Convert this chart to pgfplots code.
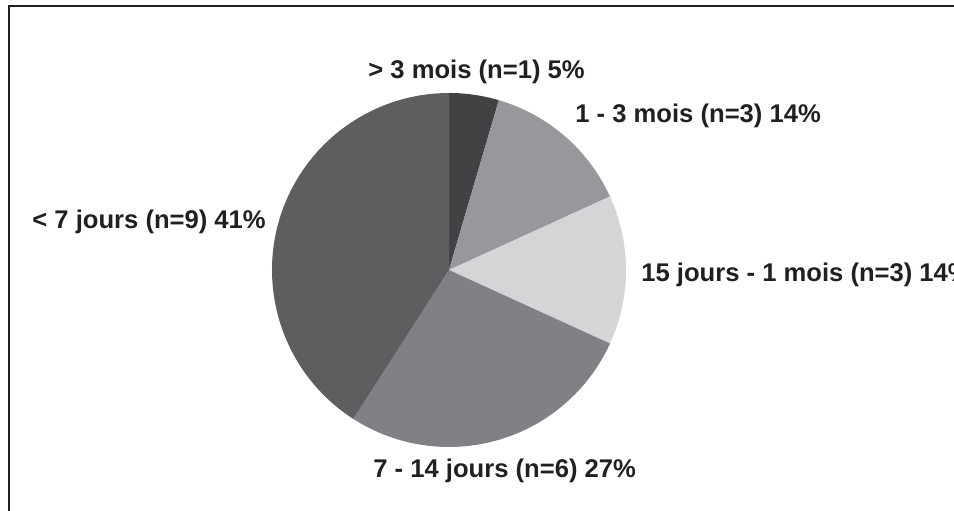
\documentclass[border=0pt]{standalone}
\usepackage{pgfplots}
\pgfplotsset{compat=1.18}
\usepackage{pgfplotstable}
\usepackage{fontspec}
\setmainfont{Liberation Sans}

\definecolor{txt}{HTML}{231F20}
\definecolor{s1}{HTML}{414244}
\definecolor{s2}{HTML}{97989B}
\definecolor{s3}{HTML}{D4D5D7}
\definecolor{s4}{HTML}{808184}
\definecolor{s5}{HTML}{5E5E60}

% durees (n), dans le sens des aiguilles depuis 12h
\pgfplotstableread{
n col
1 s1
3 s2
3 s3
6 s4
9 s5
}\durees

\tikzset{lbl/.style={font=\fontsize{12.8}{15}\selectfont\bfseries, text=txt, inner sep=0pt, anchor=base west}}

\begin{document}
\begin{tikzpicture}
\useasboundingbox (0,0) rectangle (477pt,255pt);
\clip (0,0) rectangle (477pt,255pt);

\pgfplotstablegetrowsof{\durees}
\pgfmathtruncatemacro\nrows{\pgfplotsretval-1}
\def\total{0}
\pgfplotsforeachungrouped \i in {0,...,\nrows}{%
  \pgfplotstablegetelem{\i}{n}\of\durees
  \pgfmathsetmacro\total{\total+\pgfplotsretval}%
}

\begin{axis}[
  at={(0,0)}, anchor=south west,
  width=477pt, height=255pt, scale only axis,
  xmin=0, xmax=954, ymin=0, ymax=510,
  hide axis, clip=false,
]
\def\angA{90}
\pgfplotsforeachungrouped \i in {0,...,\nrows}{%
  \pgfplotstablegetelem{\i}{n}\of\durees \let\nval\pgfplotsretval
  \pgfplotstablegetelem{\i}{col}\of\durees \let\scol\pgfplotsretval
  \pgfmathsetmacro\angB{\angA-360*\nval/\total}%
  \edef\temp{\noexpand\fill[\scol] (axis cs:449,240) -- ++(\angA:88.5pt)
    arc[start angle=\angA, end angle=\angB, radius=88.5pt] -- cycle;}%
  \temp
  \let\angA\angB
}

% cadre
\draw[txt, line width=1.1pt] (axis cs:9,-20) -- (axis cs:9,504) -- (axis cs:980,504);

\node[lbl] at (axis cs:368,432) {> 3 mois (n=1) 5\%};
\node[lbl] at (axis cs:575,388) {1 - 3 mois (n=3) 14\%};
\node[lbl] at (axis cs:641,229) {15 jours - 1 mois (n=3) 14\%};
\node[lbl] at (axis cs:373,33) {7 - 14 jours (n=6) 27\%};
\node[lbl] at (axis cs:32,282) {< 7 jours (n=9) 41\%};
\end{axis}
\end{tikzpicture}
\end{document}
